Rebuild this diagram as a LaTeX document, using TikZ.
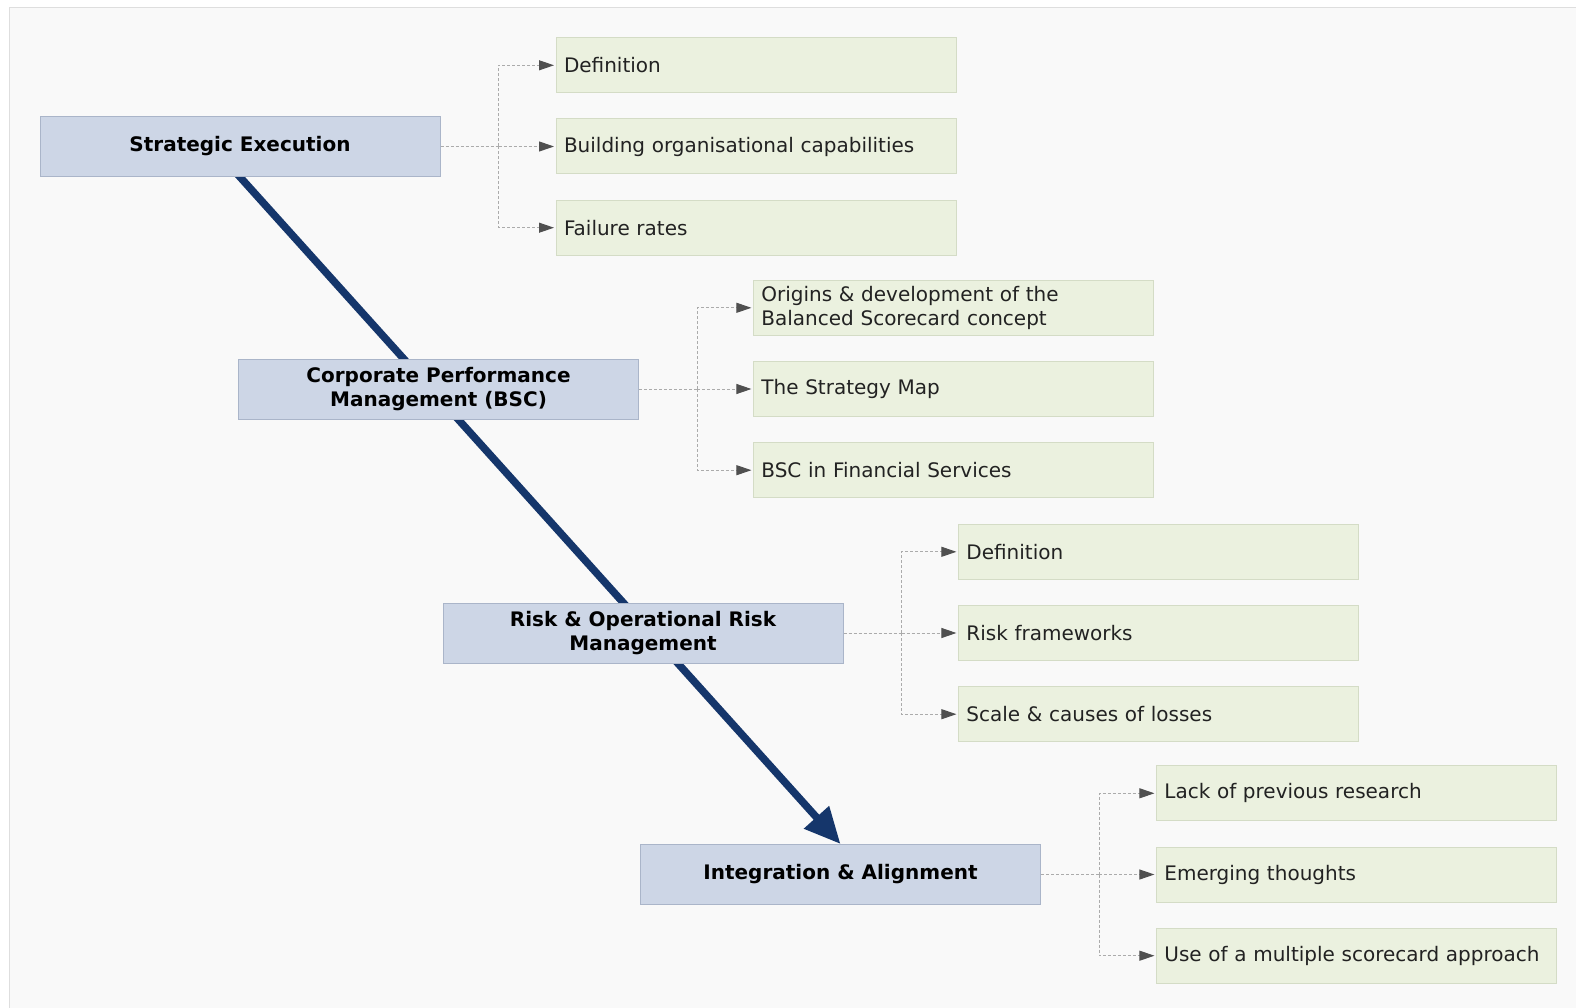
\documentclass[tikz,border=0pt]{standalone}
\usepackage{fontspec}
\setmainfont{DejaVu Sans}
\usetikzlibrary{arrows.meta,backgrounds,calc}
\definecolor{mainfill}{HTML}{CDD6E6}
\definecolor{mainline}{HTML}{AAB5C9}
\definecolor{subfill}{HTML}{EBF1DF}
\definecolor{subline}{HTML}{D4DCC6}
\definecolor{navy}{HTML}{15366B}
\definecolor{conn}{HTML}{ABABAB}
\definecolor{tipc}{HTML}{505050}
\definecolor{panel}{HTML}{F9F9F9}
\definecolor{panelline}{HTML}{DEDEDE}
\definecolor{subtext}{HTML}{222222}
\begin{document}
\begin{tikzpicture}[x=1pt,y=-1pt,
  mainbox/.style={draw=mainline,fill=mainfill,line width=1pt,minimum width=400pt,minimum height=60pt,inner sep=0pt,align=center,font=\fontsize{20}{24}\selectfont\bfseries,text=black},
  subbox/.style={draw=subline,fill=subfill,line width=1pt,minimum width=400pt,minimum height=55pt,inner sep=0pt,text width=384pt,align=left,font=\fontsize{20}{24}\selectfont,text=subtext},
  link/.style={draw=conn,line width=1pt,dash pattern=on 3pt off 2pt},
  linkarrow/.style={link,shorten >=1.5pt,-{Triangle[length=15pt,width=10pt,fill=tipc,color=tipc]}},
  bigarrow/.style={draw=navy,line width=7.5pt,-{Triangle[length=36pt,width=32pt,fill=navy]}}
]
\useasboundingbox (0,0) rectangle (1576,1008);
\begin{scope}[on background layer]
  \fill[white] (0,0) rectangle (1576,1008);
  \draw[panelline,fill=panel,line width=1pt] (9,7.5) rectangle (1590,1020);
\end{scope}

% main boxes
\node[mainbox] (se) at (240,146.5) {Strategic Execution};
\node[mainbox] (cp) at (438.5,389) {Corporate Performance\\Management (BSC)};
\node[mainbox] (rm) at (643,633) {Risk \& Operational Risk\\Management};
\node[mainbox] (ia) at (840.5,874.5) {Integration \& Alignment};

% group 1
\node[subbox] (a1) at (756,65.3) {Definition};
\node[subbox] (a2) at (756,146.5) {Building organisational capabilities};
\node[subbox] (a3) at (756,227.7) {Failure rates};
% group 2
\node[subbox] (b1) at (953.4,307.8) {Origins \& development of the\\Balanced Scorecard concept};
\node[subbox] (b2) at (953.4,389) {The Strategy Map};
\node[subbox] (b3) at (953.4,470.2) {BSC in Financial Services};
% group 3
\node[subbox] (c1) at (1158.4,551.8) {Definition};
\node[subbox] (c2) at (1158.4,633) {Risk frameworks};
\node[subbox] (c3) at (1158.4,714.2) {Scale \& causes of losses};
% group 4
\node[subbox] (d1) at (1356.4,793.3) {Lack of previous research};
\node[subbox] (d2) at (1356.4,874.5) {Emerging thoughts};
\node[subbox] (d3) at (1356.4,955.7) {Use of a multiple scorecard approach};

% junctions
\coordinate (j1) at ([xshift=58pt]se.east);
\coordinate (j2) at ([xshift=58pt]cp.east);
\coordinate (j3) at ([xshift=58pt]rm.east);
\coordinate (j4) at ([xshift=58pt]ia.east);

\foreach \m/\j/\c in {se/j1/a, cp/j2/b, rm/j3/c, ia/j4/d}{
  \draw[link] (\m.east) -- (\j);
  \draw[linkarrow] (\j) |- (\c1.west);
  \draw[linkarrow] (\j) -- (\c2.west);
  \draw[linkarrow] (\j) |- (\c3.west);
}

\begin{scope}[on background layer]
  \draw[bigarrow] ($(se.south)!-12pt!(ia.north)$) -- (ia.north);
\end{scope}
\end{tikzpicture}
\end{document}
